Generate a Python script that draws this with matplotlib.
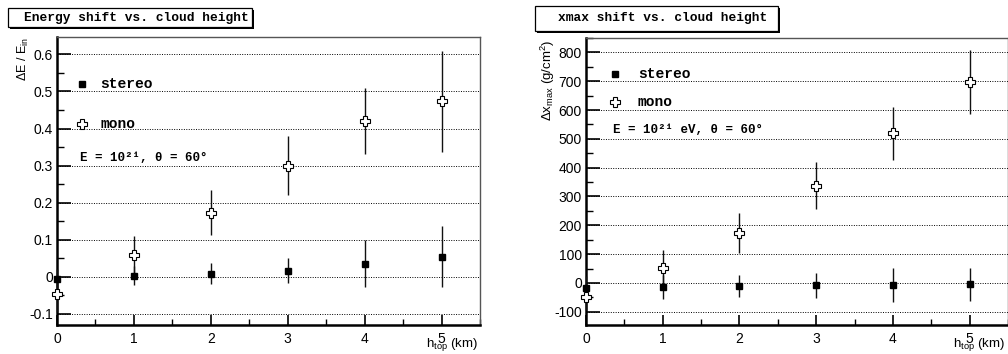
import matplotlib
matplotlib.use('Agg')
import matplotlib.pyplot as plt
from matplotlib.patches import Rectangle
from matplotlib.ticker import MultipleLocator, FuncFormatter

plt.rcParams['font.family'] = ['Liberation Sans', 'DejaVu Sans']
plt.rcParams['mathtext.fontset'] = 'custom'
plt.rcParams['mathtext.rm'] = 'Liberation Sans'
plt.rcParams['mathtext.it'] = 'Liberation Sans:italic'

# cloud top height (km)
h_top = [0, 1, 2, 3, 4, 5]

# energy shift  dE/E_in
dE_stereo = [-0.005, 0.003, 0.008, 0.017, 0.035, 0.054]
dE_stereo_err = [0.025, 0.025, 0.028, 0.035, 0.063, 0.082]
dE_mono = [-0.046, 0.060, 0.173, 0.300, 0.420, 0.473]
dE_mono_err = [0.05, 0.05, 0.06, 0.08, 0.09, 0.135]

# xmax shift (g/cm2)
dX_stereo = [-17, -14, -10, -8, -7, -5]
dX_stereo_err = [40, 43, 39, 43, 60, 57]
dX_mono = [-48, 52, 174, 338, 519, 697]
dX_mono_err = [45, 63, 70, 80, 93, 112]

W, H = 1008, 354
fig = plt.figure(figsize=(W / 100, H / 100), dpi=100)

MONO = 'Liberation Mono'


def px(x, y):
    # pixel position (from top-left) -> figure fraction
    return x / W, 1 - y / H


def title_box(x0, y0, x1, y1, text, tx):
    fig.patches.append(Rectangle((x0 / W + 2 / W, 1 - y1 / H - 2 / H), (x1 - x0) / W, (y1 - y0) / H,
                                 transform=fig.transFigure, facecolor='black', edgecolor='black', lw=0))
    fig.patches.append(Rectangle((x0 / W, 1 - y1 / H), (x1 - x0) / W, (y1 - y0) / H,
                                 transform=fig.transFigure, facecolor='white', edgecolor='black', lw=0.9))
    fig.text(*px(tx, (y0 + y1) / 2), text, family=MONO, weight='bold', fontsize=9.3,
             ha='center', va='center')


def style_axes(ax, ylim, ymajor, yminor):
    ax.set_xlim(0, 5.5)
    ax.set_ylim(*ylim)
    ax.xaxis.set_major_locator(MultipleLocator(1))
    ax.xaxis.set_minor_locator(MultipleLocator(0.5))
    ax.yaxis.set_major_locator(MultipleLocator(ymajor))
    ax.yaxis.set_minor_locator(MultipleLocator(yminor))
    ax.yaxis.set_major_formatter(FuncFormatter(lambda v, _: f"{v:g}"))
    ax.xaxis.set_major_formatter(FuncFormatter(lambda v, _: f"{v:g}"))
    ax.tick_params(axis='both', which='both', direction='in', labelsize=10, color='black')
    ax.tick_params(axis='y', which='major', length=10, width=1.2, pad=3)
    ax.tick_params(axis='y', which='minor', length=5, width=1)
    ax.tick_params(axis='x', which='major', length=7, width=1.2, pad=5)
    ax.tick_params(axis='x', which='minor', length=4, width=1)
    ax.yaxis.grid(True, which='major', color='black', linestyle=(0, (1, 1.5)), linewidth=0.7)
    ax.set_axisbelow(True)
    ax.spines['left'].set_linewidth(1.8)
    ax.spines['bottom'].set_linewidth(1.8)
    for s in ('top', 'right'):
        ax.spines[s].set_linewidth(1.0)
        ax.spines[s].set_color('#555555')


def draw_points(ax, st, st_err, mo, mo_err):
    ax.errorbar(h_top, st, yerr=st_err, fmt='none', ecolor='#111111', elinewidth=1.0, capsize=0,
                clip_on=False, zorder=3)
    ax.errorbar(h_top, mo, yerr=mo_err, fmt='none', ecolor='#111111', elinewidth=1.0, capsize=0,
                clip_on=False, zorder=3)
    ax.plot(h_top, st, 's', color='black', markersize=5, clip_on=False, zorder=4)
    ax.plot(h_top, mo, 'P', markerfacecolor='white', markeredgecolor='black', markeredgewidth=0.8,
            markersize=7.5, linestyle='none', clip_on=False, zorder=4)


def legend(ax, xm, xt, ys, ym, ye, etext):
    ax.plot([xm], [ys], 's', color='black', markersize=4.5, transform=ax.transAxes, clip_on=False)
    ax.plot([xm], [ym], 'P', markerfacecolor='white', markeredgecolor='black', markeredgewidth=0.8,
            markersize=7, transform=ax.transAxes, clip_on=False)
    ax.text(xt, ys, 'stereo', transform=ax.transAxes, family=MONO, weight='bold', fontsize=10.5,
            va='center', ha='left')
    ax.text(xt, ym, 'mono', transform=ax.transAxes, family=MONO, weight='bold', fontsize=10.5,
            va='center', ha='left')
    ax.text(xm - 0.004, ye, etext, transform=ax.transAxes, family=MONO, weight='bold', fontsize=9,
            va='center', ha='left')


# ---- left panel: energy shift
ax1 = fig.add_axes([57 / W, 29 / H, 423 / W, 288 / H])
style_axes(ax1, (-0.13, 0.647), 0.1, 0.05)
draw_points(ax1, dE_stereo, dE_stereo_err, dE_mono, dE_mono_err)
legend(ax1, 0.059, 0.102, 0.837, 0.698, 0.580, 'E = 10²¹, θ = 60°')
fig.text(*px(23, 37), r'$\Delta$E / E$_{\rm in}$', rotation=90, ha='center', va='top', fontsize=9)
fig.text(*px(478, 344), r'h$_{\rm top}$ (km)', ha='right', va='center', fontsize=9.5)
title_box(8, 8, 252, 27, 'Energy shift vs. cloud height', 136)

# ---- right panel: xmax shift
ax2 = fig.add_axes([586 / W, 29 / H, 422 / W, 287 / H])
style_axes(ax2, (-146, 850), 100, 50)
draw_points(ax2, dX_stereo, dX_stereo_err, dX_mono, dX_mono_err)
legend(ax2, 0.069, 0.123, 0.875, 0.777, 0.679, 'E = 10²¹ eV, θ = 60°')
fig.text(*px(548, 39), r'$\Delta$x$_{\rm max}$ (g/cm$^{2}$)', rotation=90, ha='center', va='top', fontsize=9.5)
fig.text(*px(1005, 344), r'h$_{\rm top}$ (km)', ha='right', va='center', fontsize=9.5)
title_box(535, 6, 778, 31, 'xmax shift vs. cloud height', 663)

fig.savefig('out.png', dpi=100)
